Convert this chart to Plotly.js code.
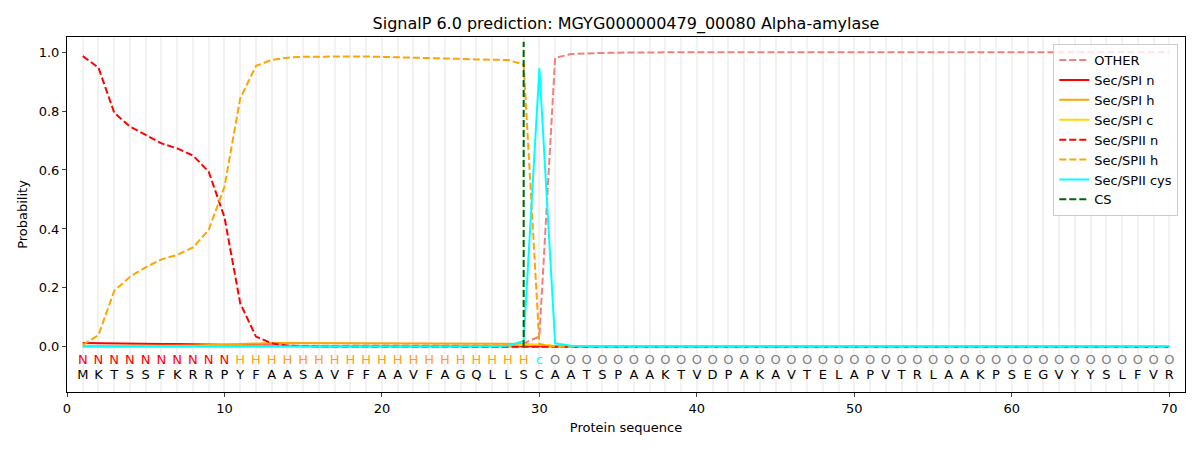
<!DOCTYPE html>
<html>
<head>
<meta charset="utf-8">
<script src="https://cdn.plot.ly/plotly-3.0.1.min.js"></script>
<style>
  body { margin: 0; background: #fff; }
  #plot { width: 1200px; height: 450px; }
</style>
</head>
<body>
<div id="plot"></div>
<script>
// residue positions 1..70
const positions = Array.from({length: 70}, (_, i) => i + 1);

const sequence = "MKTSSFKRRPYFAASAVFFAAVFAGQLLSCAATSPAAKTVDPAKAVTELAPVTRLAAKPSEGVYYSLFVR".split("");
const regionLabels = "NNNNNNNNNNHHHHHHHHHHHHHHHHHHHcOOOOOOOOOOOOOOOOOOOOOOOOOOOOOOOOOOOOOOOO".split("");
const labelColors = {N: "red", H: "orange", c: "cyan", O: "gray"};

// probabilities (positions 1..35, then flat)
const otherHead = [0.003, 0.003, 0.003, 0.003, 0.003, 0.003, 0.003, 0.003, 0.003, 0.003,
  0.003, 0.003, 0.003, 0.003, 0.003, 0.003, 0.003, 0.003, 0.003, 0.003,
  0.003, 0.003, 0.003, 0.003, 0.003, 0.004, 0.005, 0.006, 0.012, 0.035,
  0.980, 0.993, 0.996, 0.997, 0.998];
const spiNHead = [0.013, 0.012, 0.011, 0.011, 0.010, 0.010, 0.010, 0.009, 0.009, 0.007,
  0.005, 0.004, 0.003, 0.002, 0.002, 0.002, 0.002, 0.002, 0.002, 0.002,
  0.002, 0.002, 0.002, 0.002, 0.002, 0.002, 0.002, 0.002, 0.003, 0.002,
  0.001, 0.001, 0.001, 0.001, 0.001];
const spiHHead = [0.003, 0.003, 0.003, 0.003, 0.004, 0.004, 0.005, 0.005, 0.006, 0.008,
  0.010, 0.012, 0.013, 0.013, 0.013, 0.013, 0.013, 0.013, 0.013, 0.013,
  0.013, 0.013, 0.013, 0.012, 0.012, 0.012, 0.011, 0.011, 0.010, 0.006,
  0.002, 0.001, 0.001, 0.001, 0.001];
const spiCHead = [0.001, 0.001, 0.001, 0.001, 0.001, 0.001, 0.001, 0.001, 0.001, 0.001,
  0.001, 0.001, 0.001, 0.001, 0.001, 0.001, 0.001, 0.001, 0.001, 0.001,
  0.001, 0.001, 0.001, 0.001, 0.001, 0.002, 0.002, 0.003, 0.006, 0.008,
  0.003, 0.002, 0.002, 0.002, 0.002];
const spiiNHead = [0.986, 0.947, 0.794, 0.747, 0.719, 0.690, 0.673, 0.649, 0.594, 0.440,
  0.148, 0.035, 0.012, 0.004, 0.002, 0.001, 0.001, 0.001, 0.001, 0.001,
  0.001, 0.001, 0.001, 0.001, 0.001, 0.001, 0.001, 0.001, 0.001, 0.001,
  0.000, 0.000, 0.000, 0.000, 0.000];
const spiiHHead = [0.007, 0.040, 0.190, 0.238, 0.270, 0.297, 0.312, 0.337, 0.397, 0.543,
  0.843, 0.953, 0.973, 0.981, 0.984, 0.985, 0.985, 0.985, 0.985, 0.984,
  0.983, 0.982, 0.980, 0.978, 0.977, 0.975, 0.974, 0.973, 0.958, 0.010,
  0.001, 0.000, 0.000, 0.000, 0.000];
const cysHead = [0.001, 0.001, 0.001, 0.001, 0.001, 0.001, 0.001, 0.001, 0.001, 0.001,
  0.001, 0.001, 0.001, 0.001, 0.001, 0.001, 0.001, 0.001, 0.001, 0.001,
  0.001, 0.001, 0.001, 0.001, 0.001, 0.001, 0.002, 0.004, 0.020, 0.945,
  0.012, 0.004, 0.002, 0.002, 0.002];
const otherTail = 0.999, spiNTail = 0.001, spiHTail = 0.001, spiCTail = 0.002,
  spiiNTail = 0.0, spiiHTail = 0.0, cysTail = 0.002;

const csPosition = 29;

function fill(head, tail) {
  return positions.map((p, i) => i < head.length ? head[i] : tail);
}

const DASH = "7px,3px";

function line(name, ys, color, dash) {
  return {
    type: "scatter", mode: "lines", name: name,
    x: positions, y: ys,
    line: {color: color, width: 2, dash: dash || "solid"}
  };
}

const traces = [
  line("OTHER", fill(otherHead, otherTail), "lightcoral", DASH),
  line("Sec/SPI n", fill(spiNHead, spiNTail), "red"),
  line("Sec/SPI h", fill(spiHHead, spiHTail), "orange"),
  line("Sec/SPI c", fill(spiCHead, spiCTail), "gold"),
  line("Sec/SPII n", fill(spiiNHead, spiiNTail), "red", DASH),
  line("Sec/SPII h", fill(spiiHHead, spiiHTail), "orange", DASH),
  line("Sec/SPII cys", fill(cysHead, cysTail), "cyan"),
  {
    type: "scatter", mode: "lines", name: "CS",
    x: [csPosition, csPosition], y: [0, 1.035],
    line: {color: "darkgreen", width: 2, dash: DASH}
  },
  {
    type: "scatter", mode: "text", showlegend: false, hoverinfo: "skip",
    x: positions, y: positions.map(() => -0.047),
    text: regionLabels,
    textfont: {family: "DejaVu Sans", size: 13, color: regionLabels.map(l => labelColors[l])}
  },
  {
    type: "scatter", mode: "text", showlegend: false, hoverinfo: "skip",
    x: positions, y: positions.map(() => -0.098),
    text: sequence,
    textfont: {family: "DejaVu Sans", size: 13, color: "black"}
  }
];

Plotly.newPlot("plot", traces, {
  width: 1200, height: 450,
  margin: {l: 67, r: 15, t: 37, b: 58},
  paper_bgcolor: "white", plot_bgcolor: "white",
  font: {family: "DejaVu Sans", size: 13, color: "black"},
  title: {text: "SignalP 6.0 prediction: MGYG000000479_00080 Alpha-amylase",
    x: 0.5, xref: "paper", y: 0.949, yref: "container", yanchor: "middle", font: {size: 16}},
  xaxis: {
    range: [0, 71], tick0: 0, dtick: 10, ticks: "outside", ticklen: 4,
    showline: true, linecolor: "black", mirror: true, zeroline: false,
    showgrid: true, gridcolor: "rgba(0,0,0,0.05)", gridwidth: 2,
    minor: {dtick: 1, tick0: 0, showgrid: true, gridcolor: "rgba(0,0,0,0.05)", gridwidth: 2},
    title: {text: "Protein sequence", font: {size: 13}, standoff: 8}
  },
  yaxis: {
    range: [-0.153, 1.051], tickvals: [0, 0.2, 0.4, 0.6, 0.8, 1.0],
    ticktext: ["0.0", "0.2", "0.4", "0.6", "0.8", "1.0"],
    ticks: "outside", ticklen: 4, showline: true, linecolor: "black", mirror: true,
    zeroline: false, showgrid: false,
    title: {text: "Probability", font: {size: 13}, standoff: 8}
  },
  legend: {
    x: 0.994, xanchor: "right", y: 0.98, yanchor: "top",
    bgcolor: "rgba(255,255,255,0.8)", bordercolor: "#cccccc", borderwidth: 1,
    font: {size: 13}, tracegroupgap: 0
  },
  showlegend: true
}, {staticPlot: true});
</script>
</body>
</html>
